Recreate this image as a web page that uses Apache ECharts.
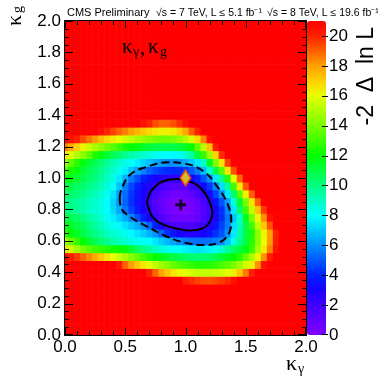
<!DOCTYPE html>
<html><head><meta charset="utf-8">
<script src="https://cdn.jsdelivr.net/npm/echarts@6/dist/echarts.min.js"></script>
<style>html,body{margin:0;padding:0;background:#fff}#c{width:378px;height:378px}</style>
</head><body><div id="c"></div>
<script>
// cell centres (kappa_gamma columns, kappa_g rows)
const kgamma = [0,0.05,0.1,0.15,0.2,0.25,0.3,0.35,0.4,0.45,0.5,0.55,0.6,0.65,0.7,0.75,0.8,0.85,0.9,0.95,1,1.05,1.1,1.15,1.2,1.25,1.3,1.35,1.4,1.45,1.5,1.55,1.6,1.65,1.7,1.75,1.8,1.85,1.9,1.95,2];
const kgluon = [0,0.05,0.1,0.15,0.2,0.25,0.3,0.35,0.4,0.45,0.5,0.55,0.6,0.65,0.7,0.75,0.8,0.85,0.9,0.95,1,1.05,1.1,1.15,1.2,1.25,1.3,1.35,1.4,1.45,1.5,1.55,1.6,1.65,1.7,1.75,1.8,1.85,1.9,1.95,2];
// -2 Delta ln L, one row per kappa_g (from 0.00 upward), capped at 21
const deltaNLL = [
/*0.00*/[21,21,21,21,21,21,21,21,21,21,21,21,21,21,21,21,21,21,21,21,21,21,21,21,21,21,21,21,21,21,21,21,21,21,21,21,21,21,21,21,21],
/*0.05*/[21,21,21,21,21,21,21,21,21,21,21,21,21,21,21,21,21,21,21,21,21,21,21,21,21,21,21,21,21,21,21,21,21,21,21,21,21,21,21,21,21],
/*0.10*/[21,21,21,21,21,21,21,21,21,21,21,21,21,21,21,21,21,21,21,21,21,21,21,21,21,21,21,21,21,21,21,21,21,21,21,21,21,21,21,21,21],
/*0.15*/[21,21,21,21,21,21,21,21,21,21,21,21,21,21,21,21,21,21,21,21,21,21,21,21,21,21,21,21,21,21,21,21,21,21,21,21,21,21,21,21,21],
/*0.20*/[21,21,21,21,21,21,21,21,21,21,21,21,21,21,21,21,21,21,21,21,21,21,21,21,21,21,21,21,21,21,21,21,21,21,21,21,21,21,21,21,21],
/*0.25*/[21,21,21,21,21,21,21,21,21,21,21,21,21,21,21,21,21,21,21,21,21,21,21,21,21,21,21,21,21,21,21,21,21,21,21,21,21,21,21,21,21],
/*0.30*/[21,21,21,21,21,21,21,21,21,21,21,21,21,21,21,21,21,21,21,21,21,21,21,21,21,21,21,21,21,21,21,21,21,21,21,21,21,21,21,21,21],
/*0.35*/[21,21,21,21,21,21,21,21,21,21,21,21,21,21,21,21,21,21,21,21,20.2,19.8,19.5,19.3,19.3,19.4,19.6,19.9,20.5,21,21,21,21,21,21,21,21,21,21,21,21],
/*0.40*/[21,21,21,21,21,21,21,21,21,21,21,21,21,21,20.0,18.9,17.9,17.2,16.6,16.2,15.9,15.6,15.4,15.3,15.3,15.4,15.6,15.9,16.3,17.2,18.6,20.1,21,21,21,21,21,21,21,21,21],
/*0.45*/[21,21,21,21,21,21,21,21,21,20.3,19.0,18.0,17.2,16.5,15.9,15.3,14.7,14.2,13.7,13.3,13.0,12.7,12.5,12.5,12.6,12.8,13.1,13.5,14.0,14.7,15.5,16.3,18.2,20.5,21,21,21,21,21,21,21],
/*0.50*/[20.8,20.2,19.6,19.0,18.4,17.8,17.2,16.6,16.0,15.4,14.8,14.2,13.6,13.0,12.5,12.1,11.7,11.3,11.0,10.7,10.5,10.3,10.2,10.3,10.5,10.8,11.2,11.6,12.0,12.6,13.6,14.9,16.2,18.2,20.2,21,21,21,21,21,21],
/*0.55*/[16.5,15.5,14.7,14.0,13.4,13.0,12.7,12.5,12.3,12.1,11.8,11.2,10.6,10.0,9.5,9.0,8.6,8.3,8.1,8.0,7.8,7.6,7.5,7.6,7.8,8.2,8.8,9.6,10.3,11.0,11.7,12.8,14.8,16.4,18.5,20.5,21,21,21,21,21],
/*0.60*/[14.5,13.7,12.8,12.0,11.3,10.7,10.2,9.8,9.4,9.1,8.8,8.5,8.3,8.1,8.0,7.6,7.1,6.7,6.3,6.0,5.7,5.5,5.4,5.4,5.5,5.7,6.0,7.0,8.4,9.7,11.0,12.6,14.3,16.0,18.1,20.2,21,21,21,21,21],
/*0.65*/[12.5,11.9,11.4,10.9,10.4,9.9,9.5,9.1,8.8,8.5,8.2,7.9,7.5,7.1,6.6,6.1,5.2,4.3,3.6,3.1,2.8,2.7,2.8,3.1,3.6,4.3,4.9,6.0,7.6,9.3,10.9,12.4,14.3,16.2,18.0,20.0,21,21,21,21,21],
/*0.70*/[11.8,11.4,11.0,10.6,10.1,9.6,9.1,8.6,8.2,7.9,7.5,7.0,6.5,6.05,5.2,4.0,2.8,2.0,1.7,1.55,1.5,1.6,1.8,2.1,2.8,3.6,4.6,5.6,7.4,9.1,10.9,13.0,15.2,17.2,19.2,21,21,21,21,21,21],
/*0.75*/[11.0,10.7,10.4,10.0,9.6,9.2,8.7,8.2,7.7,7.1,6.5,5.9,4.9,3.9,2.9,2.1,1.5,1.0,0.65,0.45,0.4,0.5,0.9,1.5,2.2,3.1,4.2,5.5,7.0,8.8,11.6,14.0,16.2,18.3,20.4,21,21,21,21,21,21],
/*0.80*/[10.2,9.9,9.6,9.3,9.0,8.7,8.4,8.0,7.3,6.4,5.5,4.6,3.8,3.0,2.35,1.6,1.0,0.5,0.2,0.02,0.05,0.25,0.7,1.3,2.1,3.1,4.3,5.8,7.6,10.3,13.0,15.3,17.3,19.6,21,21,21,21,21,21,21],
/*0.85*/[10.0,9.8,9.6,9.4,9.1,8.8,8.4,8.0,7.2,6.1,5.2,4.3,3.5,2.8,2.1,1.4,0.8,0.4,0.1,0.05,0.1,0.4,0.9,1.6,2.5,3.6,4.9,6.3,8.6,11.2,14.0,16.6,19.0,21,21,21,21,21,21,21,21],
/*0.90*/[10.5,10.3,10.1,9.8,9.5,9.1,8.7,8.2,7.5,6.3,5.3,4.4,3.6,2.9,2.35,1.8,1.2,0.8,0.5,0.45,0.6,1.0,1.6,2.2,3.3,4.6,6.0,7.6,10.2,13.4,16.3,19.0,21,21,21,21,21,21,21,21,21],
/*0.95*/[11.0,10.8,10.5,10.2,9.9,9.5,9.1,8.6,8.0,6.9,5.7,4.7,3.9,3.2,2.7,2.35,1.9,1.5,1.3,1.3,1.5,1.9,2.3,3.2,4.4,5.8,7.4,9.5,13.0,16.5,19.2,21,21,21,21,21,21,21,21,21,21],
/*1.00*/[12.0,11.6,11.2,10.8,10.4,10.0,9.6,9.0,8.4,7.6,6.6,5.6,4.8,4.0,3.4,3.0,2.7,2.5,2.4,2.5,2.7,3.1,3.9,4.9,6.0,7.6,9.8,12.6,16.0,18.9,21,21,21,21,21,21,21,21,21,21,21],
/*1.05*/[13.0,12.4,11.8,11.2,10.7,10.2,9.8,9.3,8.8,8.3,7.7,7.0,6.3,5.7,5.1,4.7,4.4,4.2,4.1,4.2,4.5,5.0,5.7,6.8,8.7,10.8,13.5,16.5,19.3,21,21,21,21,21,21,21,21,21,21,21,21],
/*1.10*/[14.5,13.6,12.6,11.8,11.2,10.7,10.2,9.7,9.2,8.8,8.4,8.1,7.7,7.2,6.8,6.5,6.2,6.0,6.0,6.1,6.5,7.0,7.6,8.8,11.5,14.0,16.5,19.5,21,21,21,21,21,21,21,21,21,21,21,21,21],
/*1.15*/[16.5,15.8,15.0,14.3,13.5,12.4,11.8,11.2,10.7,10.2,9.8,9.4,9.1,8.8,8.5,8.3,8.1,8.0,7.95,8.1,8.6,9.5,11.0,12.8,14.7,16.8,19.8,21,21,21,21,21,21,21,21,21,21,21,21,21,21],
/*1.20*/[18.5,17.8,17.0,16.2,15.5,14.9,14.3,13.8,13.3,12.8,12.3,12.0,11.7,11.4,11.1,10.9,10.8,10.8,10.9,11.1,11.5,12.1,13.5,15.2,17.3,20.2,21,21,21,21,21,21,21,21,21,21,21,21,21,21,21],
/*1.25*/[21,20.5,20.0,19.3,18.7,18.1,17.3,16.8,16.4,16.0,15.6,15.2,14.8,14.5,14.2,14.0,13.8,13.8,14.0,14.4,15.0,15.7,16.8,18.5,20.5,21,21,21,21,21,21,21,21,21,21,21,21,21,21,21,21],
/*1.30*/[21,21,21,21,21,21,20.6,20.0,19.5,19.0,18.5,18.0,17.6,17.2,16.8,16.5,16.3,16.3,16.5,17.0,17.8,19.0,20.0,21,21,21,21,21,21,21,21,21,21,21,21,21,21,21,21,21,21],
/*1.35*/[21,21,21,21,21,21,21,21,21,21,21,21,21,20.5,20.0,19.3,19.0,19.0,19.3,19.8,20.5,21,21,21,21,21,21,21,21,21,21,21,21,21,21,21,21,21,21,21,21],
/*1.40*/[21,21,21,21,21,21,21,21,21,21,21,21,21,21,21,21,21,21,21,21,21,21,21,21,21,21,21,21,21,21,21,21,21,21,21,21,21,21,21,21,21],
/*1.45*/[21,21,21,21,21,21,21,21,21,21,21,21,21,21,21,21,21,21,21,21,21,21,21,21,21,21,21,21,21,21,21,21,21,21,21,21,21,21,21,21,21],
/*1.50*/[21,21,21,21,21,21,21,21,21,21,21,21,21,21,21,21,21,21,21,21,21,21,21,21,21,21,21,21,21,21,21,21,21,21,21,21,21,21,21,21,21],
/*1.55*/[21,21,21,21,21,21,21,21,21,21,21,21,21,21,21,21,21,21,21,21,21,21,21,21,21,21,21,21,21,21,21,21,21,21,21,21,21,21,21,21,21],
/*1.60*/[21,21,21,21,21,21,21,21,21,21,21,21,21,21,21,21,21,21,21,21,21,21,21,21,21,21,21,21,21,21,21,21,21,21,21,21,21,21,21,21,21],
/*1.65*/[21,21,21,21,21,21,21,21,21,21,21,21,21,21,21,21,21,21,21,21,21,21,21,21,21,21,21,21,21,21,21,21,21,21,21,21,21,21,21,21,21],
/*1.70*/[21,21,21,21,21,21,21,21,21,21,21,21,21,21,21,21,21,21,21,21,21,21,21,21,21,21,21,21,21,21,21,21,21,21,21,21,21,21,21,21,21],
/*1.75*/[21,21,21,21,21,21,21,21,21,21,21,21,21,21,21,21,21,21,21,21,21,21,21,21,21,21,21,21,21,21,21,21,21,21,21,21,21,21,21,21,21],
/*1.80*/[21,21,21,21,21,21,21,21,21,21,21,21,21,21,21,21,21,21,21,21,21,21,21,21,21,21,21,21,21,21,21,21,21,21,21,21,21,21,21,21,21],
/*1.85*/[21,21,21,21,21,21,21,21,21,21,21,21,21,21,21,21,21,21,21,21,21,21,21,21,21,21,21,21,21,21,21,21,21,21,21,21,21,21,21,21,21],
/*1.90*/[21,21,21,21,21,21,21,21,21,21,21,21,21,21,21,21,21,21,21,21,21,21,21,21,21,21,21,21,21,21,21,21,21,21,21,21,21,21,21,21,21],
/*1.95*/[21,21,21,21,21,21,21,21,21,21,21,21,21,21,21,21,21,21,21,21,21,21,21,21,21,21,21,21,21,21,21,21,21,21,21,21,21,21,21,21,21],
/*2.00*/[21,21,21,21,21,21,21,21,21,21,21,21,21,21,21,21,21,21,21,21,21,21,21,21,21,21,21,21,21,21,21,21,21,21,21,21,21,21,21,21,21]
];
// 68% CL (solid) and 95% CL (dashed) contours
const contour68 = [[0.680,0.849],[0.711,0.913],[0.780,0.966],[0.850,0.987],[0.933,0.993],[1.015,0.982],[1.098,0.955],[1.160,0.905],[1.205,0.840],[1.223,0.775],[1.195,0.712],[1.140,0.678],[1.040,0.665],[0.960,0.673],[0.822,0.701],[0.725,0.754],[0.680,0.849]];
const contour95 = [[0.454,0.871],[0.467,0.924],[0.537,1.019],[0.683,1.072],[0.849,1.100],[0.988,1.093],[1.154,1.040],[1.264,0.945],[1.347,0.839],[1.380,0.732],[1.361,0.648],[1.292,0.594],[1.154,0.573],[1.015,0.584],[0.849,0.626],[0.683,0.690],[0.537,0.754],[0.467,0.807],[0.454,0.871]];
const bestFit = [[0.96,0.83]];
const smPoint = [[1.0,1.0]];
// tick positions
const xMajorTicks = [0,0.5,1,1.5,2];
const xMinorTicks = [0.1,0.2,0.3,0.4,0.6,0.7,0.8,0.9,1.1,1.2,1.3,1.4,1.6,1.7,1.8,1.9];
const yMajorTicks = [0,0.2,0.4,0.6,0.8,1,1.2,1.4,1.6,1.8,2];
const yMinorTicks = [0.05,0.1,0.15,0.25,0.3,0.35,0.45,0.5,0.55,0.65,0.7,0.75,0.85,0.9,0.95,1.05,1.1,1.15,1.25,1.3,1.35,1.45,1.5,1.55,1.65,1.7,1.75,1.85,1.9,1.95];
const paletteTicks = [0,2,4,6,8,10,12,14,16,18,20];
const paletteColors = ['#8000ff','#6000ff','#4000ff','#1800ff','#0020ff','#0058ff','#0090ff','#00c8ff','#00ffff','#00ffc0','#00ff80','#00ff40','#00ff00','#40ff00','#78ff00','#b0ff00','#e8ff00','#ffd000','#ffa000','#ff6000','#ff2000','#ff0000'];

deltaNLL.forEach((r,j)=>{ if(r.length!==kgamma.length) throw new Error('row '+j+' has '+r.length); });
if (deltaNLL.length!==kgluon.length) throw new Error('rows '+deltaNLL.length);

const cells = [];
for (let j=0;j<kgluon.length;j++) for (let i=0;i<kgamma.length;i++) cells.push([kgamma[i], kgluon[j], deltaNLL[j][i]]);
const STEP = 0.05;
// tick marks: [axis (0 = x, 1 = y), value, length in px]
const tickData = [];
xMajorTicks.forEach(v=>tickData.push([0,v,7]));
xMinorTicks.forEach(v=>tickData.push([0,v,4]));
yMajorTicks.forEach(v=>tickData.push([1,v,8]));
yMinorTicks.forEach(v=>tickData.push([1,v,4]));

const SANS = 'Liberation Sans, Arial, Helvetica, sans-serif';
const SERIF = 'Liberation Serif, Times New Roman, serif';
const BLACK = '#000';
function labelAxis(extra){
  return Object.assign({
    type:'value', min:0, max:2,
    axisLine:{show:false}, axisTick:{show:false}, minorTick:{show:false},
    splitLine:{show:false}, minorSplitLine:{show:false},
    axisLabel:{show:true, color:BLACK, fontSize:17, fontFamily:SANS, margin:4, formatter:v=>v.toFixed(1)}
  }, extra);
}
function bar(x, y, w, h){ return {type:'rect', shape:{x:x, y:y, width:w, height:h}, style:{fill:BLACK}}; }

const chart = echarts.init(document.getElementById('c'), null, {renderer:'canvas'});
chart.setOption({
  animation:false,
  textStyle:{fontFamily:SANS},
  grid:[
    {left:65, top:21, width:241, height:314, show:false},
    {left:307, top:21, width:19, height:314, show:false}
  ],
  xAxis:[
    labelAxis({gridIndex:0, position:'bottom', interval:0.5}),
    {gridIndex:1, type:'value', min:0, max:1, show:false}
  ],
  yAxis:[
    labelAxis({gridIndex:0, position:'left', interval:0.2}),
    {gridIndex:1, type:'value', min:0, max:21, interval:2, position:'right',
     axisLine:{show:false}, axisTick:{show:false}, splitLine:{show:false},
     axisLabel:{show:true, color:BLACK, fontSize:17, fontFamily:SANS, margin:3, customValues:paletteTicks, formatter:v=>(v>20.5?'':String(v))}}
  ],
  visualMap:{
    type:'continuous', seriesIndex:0, dimension:2, min:0, max:21,
    orient:'vertical', left:307, top:21, itemWidth:19, itemHeight:314,
    padding:0, calculable:false, hoverLink:false, realtime:false, text:null,
    inRange:{color:paletteColors}
  },
  series:[
    {type:'custom', name:'nll', xAxisIndex:0, yAxisIndex:0, data:cells, clip:true, z:1, silent:true,
     encode:{x:0, y:1},
     renderItem:function(params, api){
       const x=api.value(0), y=api.value(1);
       const a=api.coord([x-STEP/2, y+STEP/2]);
       const b=api.coord([x+STEP/2, y-STEP/2]);
       return {type:'rect', shape:{x:a[0], y:a[1], width:b[0]-a[0]+0.6, height:b[1]-a[1]+0.6}, style:{fill:api.visual('color')}};
     }},
    {type:'line', name:'68', xAxisIndex:0, yAxisIndex:0, data:contour68, smooth:0.4, symbol:'none', z:5, silent:true,
     lineStyle:{color:BLACK, width:2}},
    {type:'line', name:'95', xAxisIndex:0, yAxisIndex:0, data:contour95, smooth:0.4, symbol:'none', z:5, silent:true,
     lineStyle:{color:BLACK, width:2, type:[8,4]}},
    {type:'scatter', name:'best', xAxisIndex:0, yAxisIndex:0, data:bestFit, z:6, silent:true,
     symbol:'path://M4,0H7V4H11V7H7V11H4V7H0V4H4Z', symbolSize:11, itemStyle:{color:BLACK}},
    {type:'scatter', name:'sm', xAxisIndex:0, yAxisIndex:0, data:smPoint, z:6, silent:true,
     symbol:'diamond', symbolSize:[10,15], itemStyle:{color:'#ffee00', borderColor:'#ff5000', borderWidth:2}},
    // frame of the plot (through the axis scales)
    {type:'custom', name:'frame', xAxisIndex:0, yAxisIndex:0, data:[[0,0]], clip:false, z:10, silent:true,
     renderItem:function(params, api){
       const tl=api.coord([0,2]), br=api.coord([2,0]);
       const x0=Math.round(tl[0]), y0=Math.round(tl[1]), x1=Math.round(br[0]), y1=Math.round(br[1]);
       return {type:'group', children:[bar(x0-1,y0-1,x1-x0+1,1), bar(x0-1,y1,x1-x0+1,1), bar(x0-1,y0-1,1,y1-y0+2), bar(x1,y0-1,1,y1-y0+2)]};
     }},
    // inward ticks on all four sides
    {type:'custom', name:'ticks', xAxisIndex:0, yAxisIndex:0, data:tickData, clip:false, z:10, silent:true,
     encode:{x:1, y:1},
     renderItem:function(params, api){
       const ax=api.value(0), v=api.value(1), L=api.value(2);
       if (ax===0) {
         const b=api.coord([v,0]), t=api.coord([v,2]);
         const x=Math.min(Math.round(b[0]), Math.round(api.coord([2,0])[0])-1);
         return {type:'group', children:[bar(x, Math.round(b[1])-L, 1, L), bar(x, Math.round(t[1]), 1, L)]};
       }
       const l=api.coord([0,v]), r=api.coord([2,v]);
       const y=Math.min(Math.round(l[1]), Math.round(api.coord([0,0])[1])-1);
       return {type:'group', children:[bar(Math.round(l[0]), y, L, 1), bar(Math.round(r[0])-L, y, L, 1)]};
     }},
    // palette ticks
    {type:'custom', name:'paletteTicks', xAxisIndex:1, yAxisIndex:1, data:paletteTicks.map(v=>[1,v]), clip:false, z:10, silent:true,
     encode:{x:0, y:1},
     renderItem:function(params, api){
       const p=api.coord([1, api.value(1)]);
       const y=Math.min(Math.round(p[1]), Math.round(api.coord([1,0])[1])-1);
       return bar(Math.round(p[0])-4, y, 6, 1);
     }}
  ],
  graphic:[
    {type:'text', x:67, y:13, z:20, style:{text:'CMS Preliminary', fontSize:11, fontFamily:SANS, fill:BLACK, align:'left', verticalAlign:'middle'}},
    {type:'text', x:156, y:13, z:20, style:{text:'√s = 7 TeV, L ≤ 5.1 fb⁻¹', fontSize:10.5, fontFamily:SANS, fill:BLACK, align:'left', verticalAlign:'middle'}},
    {type:'text', x:267, y:13, z:20, style:{text:'√s = 8 TeV, L ≤ 19.6 fb⁻¹', fontSize:10.5, fontFamily:SANS, fill:BLACK, align:'left', verticalAlign:'middle'}},
    {type:'text', x:15, y:15, rotation:Math.PI/2, z:20, style:{text:'κ', fontSize:22, fontFamily:SERIF, fill:BLACK, align:'right', verticalAlign:'middle'}},
    {type:'text', x:18, y:13, rotation:Math.PI/2, z:20, style:{text:'g', fontSize:14, fontFamily:SERIF, fill:BLACK, align:'left', verticalAlign:'middle'}},
    {type:'text', x:297, y:364, z:20, style:{text:'κ', fontSize:22, fontFamily:SERIF, fill:BLACK, align:'right', verticalAlign:'middle'}},
    {type:'text', x:298, y:369, z:20, style:{text:'γ', fontSize:14, fontFamily:SERIF, fill:BLACK, align:'left', verticalAlign:'middle'}},
    {type:'text', x:122, y:47, z:20, style:{text:'κ', fontSize:21, fontFamily:SERIF, fill:BLACK, align:'left', verticalAlign:'middle'}},
    {type:'text', x:133, y:52, z:20, style:{text:'γ', fontSize:14, fontFamily:SERIF, fill:BLACK, align:'left', verticalAlign:'middle'}},
    {type:'text', x:140, y:48, z:20, style:{text:',', fontSize:21, fontFamily:SERIF, fill:BLACK, align:'left', verticalAlign:'middle'}},
    {type:'text', x:148, y:47, z:20, style:{text:'κ', fontSize:21, fontFamily:SERIF, fill:BLACK, align:'left', verticalAlign:'middle'}},
    {type:'text', x:160, y:52, z:20, style:{text:'g', fontSize:14, fontFamily:SERIF, fill:BLACK, align:'left', verticalAlign:'middle'}},
    {type:'text', x:367, y:27, rotation:Math.PI/2, z:20, style:{text:'-2  Δ  ln L', fontSize:23, fontFamily:SANS, fill:BLACK, align:'right', verticalAlign:'middle'}}
  ]
});
</script></body></html>
